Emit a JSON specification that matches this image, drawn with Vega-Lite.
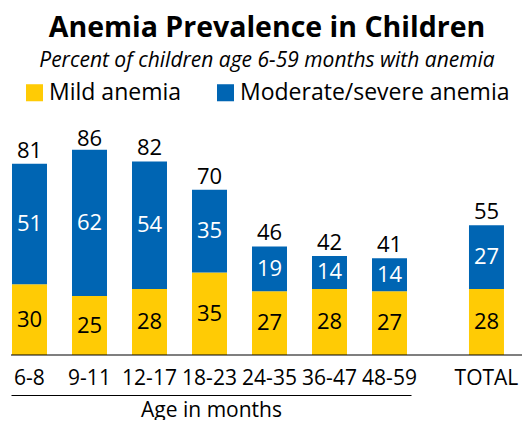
{
  "$schema": "https://vega.github.io/schema/vega-lite/v6.json",
  "background": "white",
  "bounds": "flush",
  "padding": {"left": 10, "right": 0, "top": 13, "bottom": 0},
  "title": {
    "text": "Anemia Prevalence in Children",
    "subtitle": "Percent of children age 6-59 months with anemia",
    "font": "Open Sans",
    "fontSize": 28.5,
    "fontWeight": "bold",
    "color": "black",
    "subtitleFont": "Open Sans",
    "subtitleFontSize": 21,
    "subtitleFontStyle": "italic",
    "subtitleColor": "black",
    "anchor": "middle",
    "subtitlePadding": 8,
    "offset": -2
  },
  "datasets": {
    "segments": [
      {"age": "6-8", "type": "Mild anemia", "value": 30},
      {"age": "6-8", "type": "Moderate/severe anemia", "value": 51},
      {"age": "9-11", "type": "Mild anemia", "value": 25},
      {"age": "9-11", "type": "Moderate/severe anemia", "value": 62},
      {"age": "12-17", "type": "Mild anemia", "value": 28},
      {"age": "12-17", "type": "Moderate/severe anemia", "value": 54},
      {"age": "18-23", "type": "Mild anemia", "value": 35},
      {"age": "18-23", "type": "Moderate/severe anemia", "value": 35},
      {"age": "24-35", "type": "Mild anemia", "value": 27},
      {"age": "24-35", "type": "Moderate/severe anemia", "value": 19},
      {"age": "36-47", "type": "Mild anemia", "value": 28},
      {"age": "36-47", "type": "Moderate/severe anemia", "value": 14},
      {"age": "48-59", "type": "Mild anemia", "value": 27},
      {"age": "48-59", "type": "Moderate/severe anemia", "value": 14},
      {"age": "TOTAL", "type": "Mild anemia", "value": 28},
      {"age": "TOTAL", "type": "Moderate/severe anemia", "value": 27}
    ],
    "totals": [
      {"age": "6-8", "total": 81},
      {"age": "9-11", "total": 86},
      {"age": "12-17", "total": 82},
      {"age": "18-23", "total": 70},
      {"age": "24-35", "total": 46},
      {"age": "36-47", "total": 42},
      {"age": "48-59", "total": 41},
      {"age": "TOTAL", "total": 55}
    ]
  },
  "spacing": 0,
  "resolve": {"scale": {"color": "shared", "y": "independent", "x": "independent"}},
  "hconcat": [
    {
      "width": 400,
      "height": 236,
      "layer": [
        {
          "data": {"name": "segments"},
          "transform": [{"filter": "datum.age !== 'TOTAL'"}],
          "mark": {"type": "bar"},
          "encoding": {
            "x": {
              "field": "age", "type": "nominal",
              "scale": {"domain": ["6-8", "9-11", "12-17", "18-23", "24-35", "36-47", "48-59"], "paddingInner": 0.4167, "paddingOuter": 0.04167, "align": 0.2},
              "axis": {
                "title": "Age in months", "orient": "bottom", "offset": 40, "labelPadding": -28,
                "ticks": false, "tickSize": 0, "domain": true, "domainColor": "black", "domainWidth": 1,
                "labelAngle": 0, "labelFont": "Open Sans", "labelFontSize": 21, "labelColor": "black",
                "titleFont": "Open Sans", "titleFontSize": 21, "titleFontWeight": "normal", "titleColor": "black",
                "titlePadding": 4
              }
            },
            "y": {"field": "value", "type": "quantitative", "stack": "zero", "scale": {"domain": [0, 97]}, "axis": null},
            "order": {"field": "type", "sort": "ascending"},
            "color": {
              "field": "type", "type": "nominal",
              "scale": {"domain": ["Mild anemia", "Moderate/severe anemia"], "range": ["#FFCB05", "#0065B3"]},
              "legend": {"title": null}
            }
          }
        },
        {
          "data": {"name": "segments"},
          "transform": [{"filter": "datum.age !== 'TOTAL'"}],
          "mark": {"type": "text", "font": "Open Sans", "fontSize": 22, "baseline": "middle"},
          "encoding": {
            "x": {"field": "age", "type": "nominal"},
            "y": {"field": "value", "type": "quantitative", "stack": "zero", "bandPosition": 0.5},
            "order": {"field": "type", "sort": "ascending"},
            "text": {"field": "value", "type": "quantitative"},
            "color": {"condition": {"test": "datum.type === 'Mild anemia'", "value": "black"}, "value": "white"}
          }
        },
        {
          "data": {"name": "totals"},
          "transform": [{"filter": "datum.age !== 'TOTAL'"}],
          "mark": {"type": "text", "font": "Open Sans", "fontSize": 22, "baseline": "bottom", "dy": -1, "color": "black"},
          "encoding": {
            "x": {"field": "age", "type": "nominal"},
            "y": {"field": "total", "type": "quantitative"},
            "text": {"field": "total", "type": "quantitative"}
          }
        },
        {
          "data": {"values": [{}]},
          "mark": {"type": "rule", "color": "black", "strokeWidth": 1.2},
          "encoding": {"y": {"datum": 0}}
        }
      ]
    },
    {
      "width": 112,
      "height": 236,
      "layer": [
        {
          "data": {"name": "segments"},
          "transform": [{"filter": "datum.age === 'TOTAL'"}],
          "mark": {"type": "bar"},
          "encoding": {
            "x": {
              "field": "age", "type": "nominal",
              "scale": {"domain": ["TOTAL"], "paddingInner": 0.4167, "paddingOuter": 0.6417, "align": 0.753},
              "axis": {
                "title": null, "orient": "bottom", "offset": 40, "labelPadding": -28,
                "ticks": false, "tickSize": 0, "domain": false,
                "labelAngle": 0, "labelFont": "Open Sans", "labelFontSize": 21, "labelColor": "black"
              }
            },
            "y": {"field": "value", "type": "quantitative", "stack": "zero", "scale": {"domain": [0, 97]}, "axis": null},
            "order": {"field": "type", "sort": "ascending"},
            "color": {
              "field": "type", "type": "nominal",
              "scale": {"domain": ["Mild anemia", "Moderate/severe anemia"], "range": ["#FFCB05", "#0065B3"]},
              "legend": {"title": null}
            }
          }
        },
        {
          "data": {"name": "segments"},
          "transform": [{"filter": "datum.age === 'TOTAL'"}],
          "mark": {"type": "text", "font": "Open Sans", "fontSize": 22, "baseline": "middle"},
          "encoding": {
            "x": {"field": "age", "type": "nominal"},
            "y": {"field": "value", "type": "quantitative", "stack": "zero", "bandPosition": 0.5},
            "order": {"field": "type", "sort": "ascending"},
            "text": {"field": "value", "type": "quantitative"},
            "color": {"condition": {"test": "datum.type === 'Mild anemia'", "value": "black"}, "value": "white"}
          }
        },
        {
          "data": {"name": "totals"},
          "transform": [{"filter": "datum.age === 'TOTAL'"}],
          "mark": {"type": "text", "font": "Open Sans", "fontSize": 22, "baseline": "bottom", "dy": -1, "color": "black"},
          "encoding": {
            "x": {"field": "age", "type": "nominal"},
            "y": {"field": "total", "type": "quantitative"},
            "text": {"field": "total", "type": "quantitative"}
          }
        },
        {
          "data": {"values": [{}]},
          "mark": {"type": "rule", "color": "black", "strokeWidth": 1.2},
          "encoding": {"y": {"datum": 0}}
        }
      ]
    }
  ],
  "config": {
    "view": {"stroke": null},
    "axis": {"grid": false},
    "legend": {
      "orient": "top",
      "direction": "horizontal",
      "symbolType": "square",
      "symbolSize": 290,
      "symbolStrokeWidth": 0,
      "symbolOpacity": 1,
      "labelFont": "Open Sans",
      "labelFontSize": 23,
      "labelColor": "black",
      "labelLimit": 400,
      "labelOffset": 3,
      "columnPadding": 32,
      "padding": 12,
      "offset": 2
    }
  }
}
